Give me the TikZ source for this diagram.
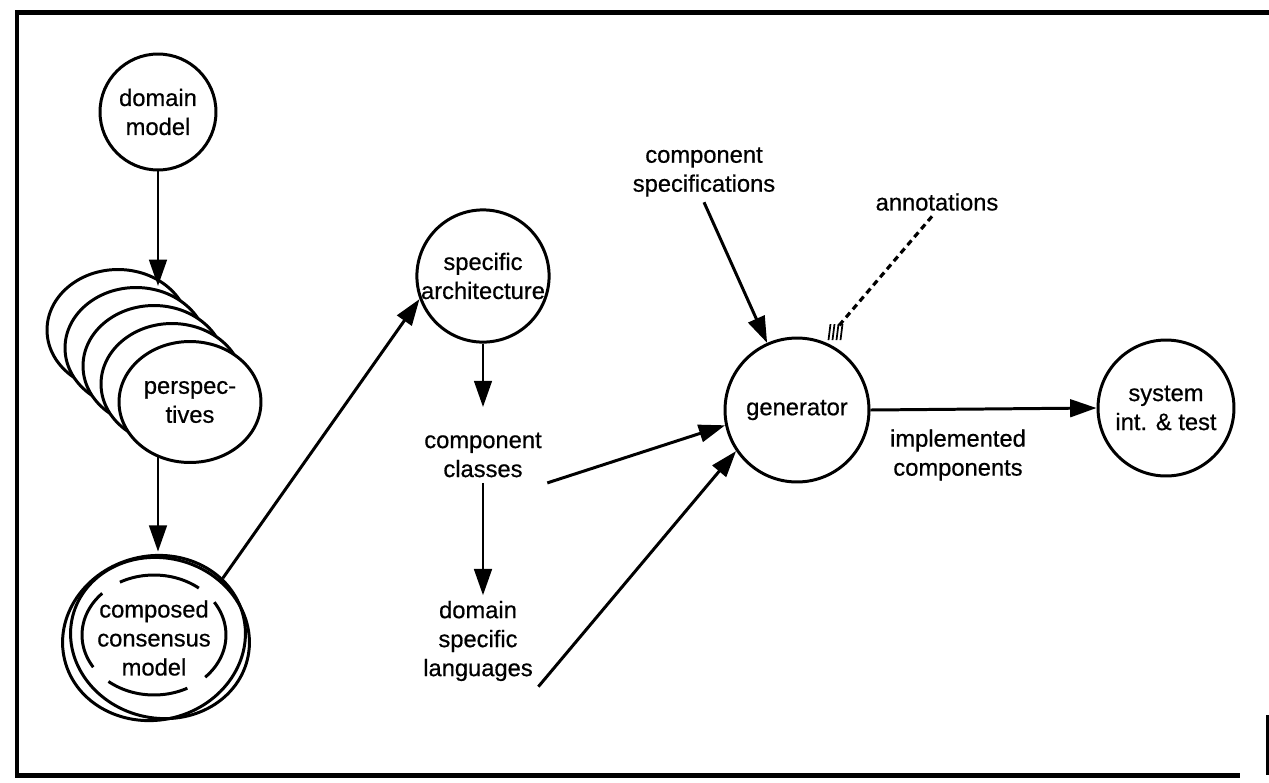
\documentclass[tikz,border=0pt]{standalone}
\usepackage{fontspec}
\setmainfont{Liberation Sans}[FakeBold=0.6]
\usetikzlibrary{arrows.meta}
\usetikzlibrary{positioning}
\usetikzlibrary{shapes.geometric}

\tikzset{
  bubble/.style = {draw, circle, line width=1.7pt, fill=white, inner sep=0pt, align=center, minimum size=#1},
  layer/.style  = {draw, ellipse, line width=1.7pt, fill=white, inner sep=0pt, align=center, minimum width=2.84cm, minimum height=2.42cm},
  lbl/.style    = {align=center, inner sep=3pt},
  flow/.style   = {line width=1.7pt, -{Triangle[length=15pt,width=10pt]}},
}

\begin{document}
\begin{tikzpicture}[x=0.02cm, y=-0.02cm, font=\fontsize{13.5}{16.5}\selectfont]
            \useasboundingbox (0,0) rectangle (1269,782);
            \draw[line width=0.1cm] (1269, 12) -- (17, 12) -- (17,775) -- (1240,775);
            \draw[line width=0.06cm] (1267,715) -- (1267,775);

            \node[bubble=2.32cm] (domain) at ( 158,112) {domain\\model};
            \foreach \k in {4,3,2,1}
                \node[layer] (persp\k) at (190-18*\k, 402-18*\k) {};
            \node[layer]         (persp)  at ( 190,402) {perspec-\\tives};
            \node[ellipse, minimum width=3.8cm, minimum height=3.44cm, inner sep=0pt, align=center]
                                 (ccm)    at ( 154,638) {composed\\consensus\\model};
            \draw[line width=1.7pt] (ccm.center) ellipse [x radius=1.84cm, y radius=1.64cm, rotate= 14];
            \draw[line width=1.7pt] ([xshift=0.12cm]ccm.center) ellipse [x radius=1.8cm, y radius=1.6cm, rotate=-14];
            \draw[line width=1.7pt, dash pattern=on 1.65cm off 0.42cm, dash phase=0.94cm]
                                 ([yshift=0.06cm]ccm.center) ellipse [x radius=1.44cm, y radius=1.2cm];

            \node[bubble=2.5cm]  (spec)   at ( 483,276) {specific\\architecture};
            \node[lbl]           (cc)     at ( 483,455) {component\\classes};
            \node[lbl]           (dsl)    at ( 478,641) {domain\\specific\\languages};
            \node[lbl]           (cspec)  at ( 704,172) {component\\specifications};
            \node[lbl]           (annot)  at ( 937,202) {annotations};
            \node[bubble=2.88cm] (gen)    at ( 797,410) {generator};
            \node[lbl]           (impl)   at ( 958,455) {implemented\\components};
            \node[bubble=2.72cm] (sys)    at (1166,408) {system\\int. \& test};

            \draw[flow] (domain) -- (domain |- persp3.north);
            \draw[flow] ([yshift=0.14cm]domain.south |- persp.south) -- (domain |- ccm.north);
            \draw[flow] (ccm.41) -- (spec.200);
            \draw[flow] (spec.south -| cc.north) -- ([yshift=0.4cm]cc.north);
            \draw[flow] (cc.south) -- (cc.south |- dsl.north);
            \draw[flow] (cc.south east) -- (gen.192);
            \draw[flow] (dsl.south east) -- (gen.214);
            \draw[flow] (cspec.south) -- (gen.114);
            \draw[flow] (gen.east) -- (sys.west);

            \coordinate (hatch) at ([shift={(-0.06cm,0.1cm)}]gen.62);
            \draw[line width=1.8pt, dash pattern=on 3.5pt off 2.5pt] ([xshift=-0.1cm]annot.south) -- ([shift={(0.2cm,0.28cm)}]hatch);
            \foreach \k in {0,...,3}
                \draw[line width=1pt] ([xshift=\k*0.08cm]hatch) -- ++(2,-16);
            \end{tikzpicture}
\end{document}
